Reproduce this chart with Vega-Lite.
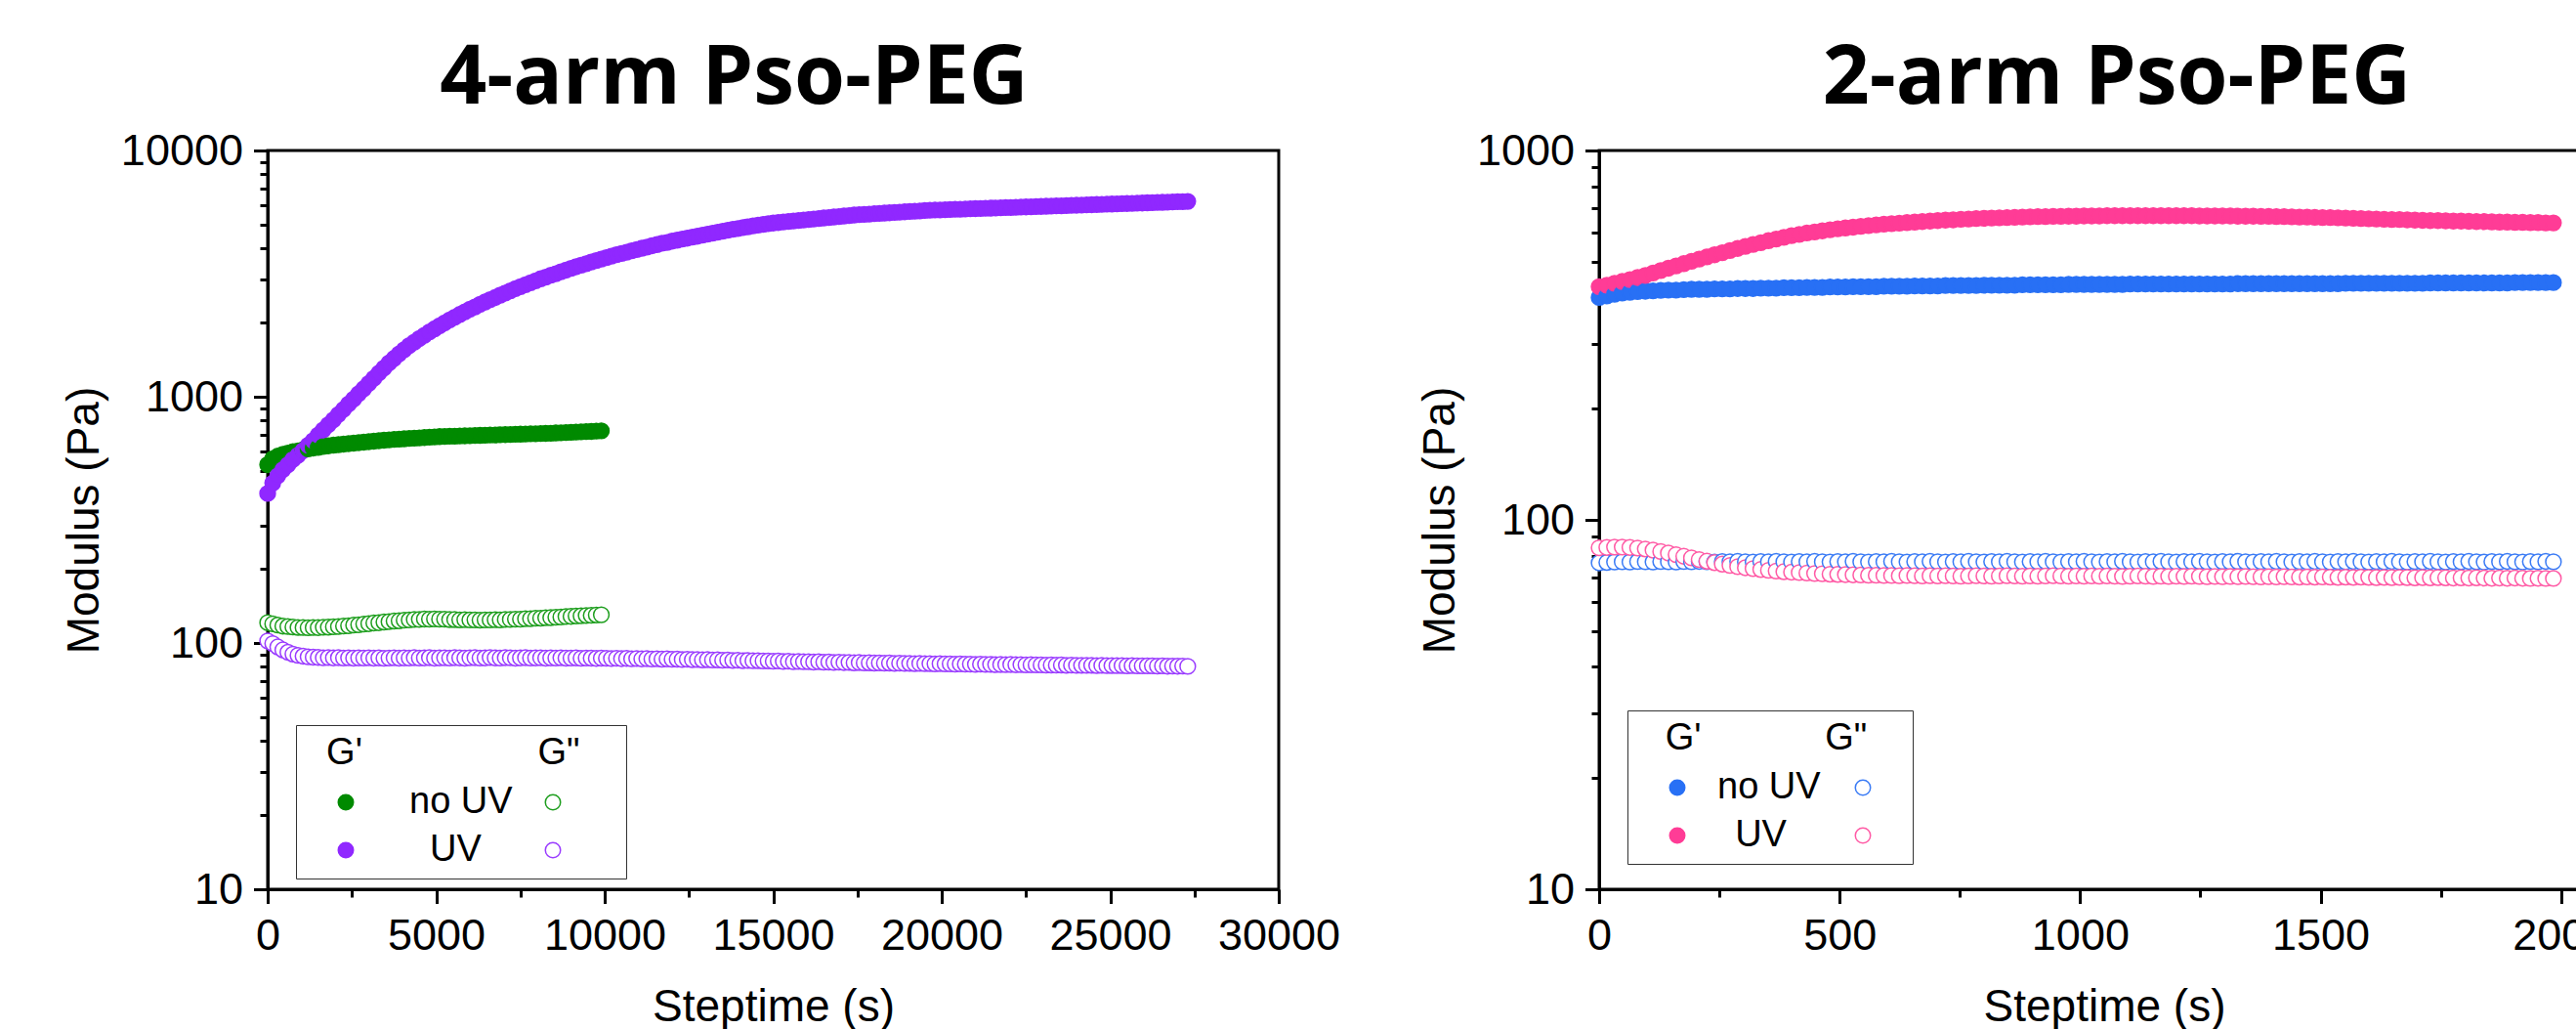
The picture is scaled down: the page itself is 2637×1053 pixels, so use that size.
{
"$schema": "https://vega.github.io/schema/vega-lite/v6.json",
"background": "white",
"padding": {"left": 61, "top": 37, "right": 0, "bottom": 0},
"spacing": 75,
"config": {
 "view": {"stroke": "black", "strokeWidth": 3},
 "font": "Liberation Sans",
 "axis": {"domainColor": "black", "domainWidth": 3, "tickColor": "black", "tickWidth": 3, "labelFont": "Liberation Sans", "labelFontSize": 45, "labelColor": "black", "labelPadding": 11, "titleFont": "Liberation Sans", "titleFontSize": 46, "titleFontWeight": "normal", "titleColor": "black", "grid": false, "zindex": 1, "labelFlush": false, "labelOverlap": false},
 "axisY": {"titlePadding": 13},
 "axisX": {"titlePadding": 28},
 "title": {"font": "Open Sans", "fontSize": 84, "fontWeight": "bold", "color": "black", "anchor": "middle", "frame": "group", "baseline": "alphabetic", "offset": 8},
 "legend": {"orient": "none", "columns": 2, "symbolType": "circle", "symbolSize": 240, "symbolStrokeWidth": 1.5, "labelFont": "Liberation Sans", "labelFontSize": 38, "labelColor": "black", "titleFont": "Liberation Sans", "titleFontSize": 38, "titleFontWeight": "normal", "titleColor": "black", "titleLimit": 600, "labelLimit": 300, "padding": 10, "titlePadding": 12, "rowPadding": 11, "strokeColor": "#333333", "symbolOffset": 22}
},
"resolve": {"scale": {"x": "independent", "y": "independent", "fill": "independent", "stroke": "independent"}, "legend": {"fill": "independent", "stroke": "independent"}},
"datasets": {
"L": [
{"t":0,"n1":530,"n2":121,"u1":405,"u2":102},
{"t":150,"n1":560,"n2":119.6,"u1":446,"u2":99.5},
{"t":300,"n1":574,"n2":118.2,"u1":478,"u2":96.4},
{"t":450,"n1":584,"n2":117.1,"u1":506,"u2":93.8},
{"t":600,"n1":591,"n2":116.6,"u1":529,"u2":91.7},
{"t":750,"n1":598,"n2":116.1,"u1":556,"u2":90.2},
{"t":900,"n1":603,"n2":115.7,"u1":579,"u2":89.1},
{"t":1050,"n1":609,"n2":115.6,"u1":604,"u2":88.4},
{"t":1200,"n1":614,"n2":115.4,"u1":635,"u2":87.9},
{"t":1350,"n1":619,"n2":115.6,"u1":664,"u2":87.6},
{"t":1500,"n1":623,"n2":115.5,"u1":699,"u2":87.4},
{"t":1650,"n1":628,"n2":115.9,"u1":733,"u2":87.1},
{"t":1800,"n1":632,"n2":116.0,"u1":770,"u2":87.3},
{"t":1950,"n1":636,"n2":116.4,"u1":806,"u2":87.0},
{"t":2100,"n1":639,"n2":116.6,"u1":848,"u2":87.2},
{"t":2250,"n1":642,"n2":117.2,"u1":888,"u2":86.9},
{"t":2400,"n1":645,"n2":117.5,"u1":934,"u2":87.1},
{"t":2550,"n1":648,"n2":118.2,"u1":978,"u2":86.8},
{"t":2700,"n1":651,"n2":118.6,"u1":1029,"u2":87.0},
{"t":2850,"n1":654,"n2":119.4,"u1":1078,"u2":86.9},
{"t":3000,"n1":657,"n2":119.8,"u1":1133,"u2":87.1},
{"t":3150,"n1":660,"n2":120.6,"u1":1188,"u2":86.8},
{"t":3300,"n1":663,"n2":120.9,"u1":1248,"u2":87.0},
{"t":3450,"n1":666,"n2":121.7,"u1":1308,"u2":86.7},
{"t":3600,"n1":668,"n2":122.1,"u1":1372,"u2":86.9},
{"t":3750,"n1":671,"n2":122.8,"u1":1431,"u2":87.1},
{"t":3900,"n1":673,"n2":123.1,"u1":1494,"u2":86.8},
{"t":4050,"n1":675,"n2":123.8,"u1":1551,"u2":87.0},
{"t":4200,"n1":677,"n2":124.0,"u1":1612,"u2":86.9},
{"t":4350,"n1":679,"n2":124.6,"u1":1666,"u2":87.2},
{"t":4500,"n1":681,"n2":124.7,"u1":1723,"u2":86.9},
{"t":4650,"n1":683,"n2":125.1,"u1":1777,"u2":87.0},
{"t":4800,"n1":685,"n2":125.0,"u1":1833,"u2":87.2},
{"t":4950,"n1":687,"n2":125.2,"u1":1887,"u2":86.8},
{"t":5100,"n1":689,"n2":124.9,"u1":1942,"u2":87.0},
{"t":5250,"n1":690,"n2":124.9,"u1":1994,"u2":87.1},
{"t":5400,"n1":691,"n2":124.5,"u1":2052,"u2":86.9},
{"t":5550,"n1":692,"n2":124.5,"u1":2103,"u2":87.2},
{"t":5700,"n1":693,"n2":124.2,"u1":2159,"u2":87.0},
{"t":5850,"n1":694,"n2":124.3,"u1":2212,"u2":86.8},
{"t":6000,"n1":695,"n2":124.0,"u1":2266,"u2":87.1},
{"t":6150,"n1":696,"n2":124.1,"u1":2316,"u2":87.2},
{"t":6300,"n1":697,"n2":123.9,"u1":2372,"u2":86.9},
{"t":6450,"n1":698,"n2":124.1,"u1":2426,"u2":87.0},
{"t":6600,"n1":699,"n2":124.0,"u1":2478,"u2":87.3},
{"t":6750,"n1":700,"n2":124.3,"u1":2528,"u2":87.0},
{"t":6900,"n1":701,"n2":124.2,"u1":2583,"u2":86.9},
{"t":7050,"n1":702,"n2":124.6,"u1":2635,"u2":87.2},
{"t":7200,"n1":703,"n2":124.6,"u1":2693,"u2":87.1},
{"t":7350,"n1":704,"n2":125.0,"u1":2747,"u2":86.8},
{"t":7500,"n1":705,"n2":125.0,"u1":2800,"u2":87.0},
{"t":7650,"n1":706,"n2":125.5,"u1":2850,"u2":87.2},
{"t":7800,"n1":707,"n2":125.6,"u1":2905,"u2":86.9},
{"t":7950,"n1":708,"n2":126.1,"u1":2957,"u2":87.0},
{"t":8100,"n1":709,"n2":126.2,"u1":3014,"u2":87.1},
{"t":8250,"n1":710,"n2":126.7,"u1":3061,"u2":86.8},
{"t":8400,"n1":711,"n2":126.8,"u1":3113,"u2":87.0},
{"t":8550,"n1":713,"n2":127.3,"u1":3161,"u2":86.9},
{"t":8700,"n1":714,"n2":127.5,"u1":3215,"u2":87.1},
{"t":8850,"n1":716,"n2":128.1,"u1":3265,"u2":86.8},
{"t":9000,"n1":717,"n2":128.3,"u1":3320,"u2":86.9},
{"t":9150,"n1":719,"n2":128.8,"u1":3372,"u2":87.0},
{"t":9300,"n1":720,"n2":128.9,"u1":3421,"u2":86.7},
{"t":9450,"n1":722,"n2":129.4,"u1":3466,"u2":86.9},
{"t":9600,"n1":723,"n2":129.5,"u1":3525,"u2":86.8},
{"t":9750,"n1":725,"n2":130.0,"u1":3572,"u2":86.6},
{"t":9900,"n1":727,"n2":130.2,"u1":3623,"u2":86.8},
{"t":10050,"u1":3672,"u2":86.7},
{"t":10200,"u1":3725,"u2":86.5},
{"t":10350,"u1":3775,"u2":86.7},
{"t":10500,"u1":3820,"u2":86.4},
{"t":10650,"u1":3863,"u2":86.6},
{"t":10800,"u1":3918,"u2":86.3},
{"t":10950,"u1":3962,"u2":86.5},
{"t":11100,"u1":4010,"u2":86.2},
{"t":11250,"u1":4054,"u2":86.4},
{"t":11400,"u1":4103,"u2":86.1},
{"t":11550,"u1":4149,"u2":86.3},
{"t":11700,"u1":4199,"u2":86.0},
{"t":11850,"u1":4235,"u2":86.2},
{"t":12000,"u1":4286,"u2":85.9},
{"t":12150,"u1":4324,"u2":86.0},
{"t":12300,"u1":4366,"u2":85.7},
{"t":12450,"u1":4405,"u2":85.9},
{"t":12600,"u1":4447,"u2":85.6},
{"t":12750,"u1":4486,"u2":85.7},
{"t":12900,"u1":4530,"u2":85.4},
{"t":13050,"u1":4570,"u2":85.6},
{"t":13200,"u1":4614,"u2":85.3},
{"t":13350,"u1":4655,"u2":85.4},
{"t":13500,"u1":4700,"u2":85.1},
{"t":13650,"u1":4741,"u2":85.3},
{"t":13800,"u1":4787,"u2":85.0},
{"t":13950,"u1":4818,"u2":85.1},
{"t":14100,"u1":4865,"u2":84.8},
{"t":14250,"u1":4897,"u2":85.0},
{"t":14400,"u1":4944,"u2":84.7},
{"t":14550,"u1":4976,"u2":84.8},
{"t":14700,"u1":5013,"u2":84.5},
{"t":14850,"u1":5046,"u2":84.6},
{"t":15000,"u1":5074,"u2":84.3},
{"t":15150,"u1":5098,"u2":84.5},
{"t":15300,"u1":5125,"u2":84.2},
{"t":15450,"u1":5148,"u2":84.3},
{"t":15600,"u1":5174,"u2":84.0},
{"t":15750,"u1":5197,"u2":84.2},
{"t":15900,"u1":5225,"u2":83.9},
{"t":16050,"u1":5247,"u2":84.0},
{"t":16200,"u1":5273,"u2":83.7},
{"t":16350,"u1":5296,"u2":83.9},
{"t":16500,"u1":5322,"u2":83.6},
{"t":16650,"u1":5345,"u2":83.7},
{"t":16800,"u1":5371,"u2":83.4},
{"t":16950,"u1":5394,"u2":83.6},
{"t":17100,"u1":5421,"u2":83.3},
{"t":17250,"u1":5444,"u2":83.4},
{"t":17400,"u1":5471,"u2":83.1},
{"t":17550,"u1":5486,"u2":83.3},
{"t":17700,"u1":5504,"u2":83.0},
{"t":17850,"u1":5519,"u2":83.1},
{"t":18000,"u1":5537,"u2":82.9},
{"t":18150,"u1":5552,"u2":83.0},
{"t":18300,"u1":5571,"u2":82.8},
{"t":18450,"u1":5585,"u2":82.9},
{"t":18600,"u1":5604,"u2":82.7},
{"t":18750,"u1":5619,"u2":82.8},
{"t":18900,"u1":5637,"u2":82.6},
{"t":19050,"u1":5652,"u2":82.7},
{"t":19200,"u1":5671,"u2":82.5},
{"t":19350,"u1":5686,"u2":82.6},
{"t":19500,"u1":5705,"u2":82.4},
{"t":19650,"u1":5720,"u2":82.5},
{"t":19800,"u1":5731,"u2":82.3},
{"t":19950,"u1":5738,"u2":82.4},
{"t":20100,"u1":5750,"u2":82.2},
{"t":20250,"u1":5757,"u2":82.3},
{"t":20400,"u1":5769,"u2":82.1},
{"t":20550,"u1":5776,"u2":82.2},
{"t":20700,"u1":5787,"u2":82.0},
{"t":20850,"u1":5795,"u2":82.1},
{"t":21000,"u1":5806,"u2":81.9},
{"t":21150,"u1":5814,"u2":82.0},
{"t":21300,"u1":5825,"u2":81.9},
{"t":21450,"u1":5832,"u2":81.9},
{"t":21600,"u1":5844,"u2":81.7},
{"t":21750,"u1":5851,"u2":81.8},
{"t":21900,"u1":5862,"u2":81.7},
{"t":22050,"u1":5870,"u2":81.8},
{"t":22200,"u1":5881,"u2":81.6},
{"t":22350,"u1":5889,"u2":81.7},
{"t":22500,"u1":5901,"u2":81.5},
{"t":22650,"u1":5908,"u2":81.6},
{"t":22800,"u1":5920,"u2":81.5},
{"t":22950,"u1":5927,"u2":81.5},
{"t":23100,"u1":5939,"u2":81.3},
{"t":23250,"u1":5946,"u2":81.4},
{"t":23400,"u1":5958,"u2":81.3},
{"t":23550,"u1":5965,"u2":81.4},
{"t":23700,"u1":5977,"u2":81.2},
{"t":23850,"u1":5985,"u2":81.3},
{"t":24000,"u1":5996,"u2":81.1},
{"t":24150,"u1":6004,"u2":81.2},
{"t":24300,"u1":6015,"u2":81.1},
{"t":24450,"u1":6023,"u2":81.2},
{"t":24600,"u1":6035,"u2":81.0},
{"t":24750,"u1":6042,"u2":81.1},
{"t":24900,"u1":6054,"u2":80.9},
{"t":25050,"u1":6062,"u2":81.0},
{"t":25200,"u1":6073,"u2":80.9},
{"t":25350,"u1":6081,"u2":81.0},
{"t":25500,"u1":6093,"u2":80.8},
{"t":25650,"u1":6101,"u2":80.9},
{"t":25800,"u1":6113,"u2":80.7},
{"t":25950,"u1":6120,"u2":80.8},
{"t":26100,"u1":6132,"u2":80.7},
{"t":26250,"u1":6140,"u2":80.8},
{"t":26400,"u1":6152,"u2":80.6},
{"t":26550,"u1":6160,"u2":80.7},
{"t":26700,"u1":6172,"u2":80.5},
{"t":26850,"u1":6180,"u2":80.6},
{"t":27000,"u1":6192,"u2":80.5},
{"t":27150,"u1":6200,"u2":80.6},
{"t":27300,"u1":6212,"u2":80.4}
],
"R": [
{"t":0,"n1":400,"n2":76.5,"u1":428,"u2":84.0},
{"t":16,"n1":404,"n2":76.7,"u1":432,"u2":84.2},
{"t":32,"n1":408,"n2":76.9,"u1":437,"u2":84.4},
{"t":48,"n1":411,"n2":77.0,"u1":442,"u2":84.4},
{"t":64,"n1":413,"n2":76.9,"u1":447,"u2":84.2},
{"t":80,"n1":415,"n2":77.1,"u1":453,"u2":83.9},
{"t":96,"n1":416,"n2":77.0,"u1":459,"u2":83.4},
{"t":112,"n1":417,"n2":76.9,"u1":466,"u2":82.8},
{"t":128,"n1":418,"n2":77.1,"u1":473,"u2":82.1},
{"t":144,"n1":419,"n2":77.0,"u1":480,"u2":81.3},
{"t":160,"n1":419,"n2":76.9,"u1":487,"u2":80.5},
{"t":176,"n1":420,"n2":77.1,"u1":494,"u2":79.7},
{"t":192,"n1":421,"n2":77.0,"u1":501,"u2":78.9},
{"t":208,"n1":421,"n2":77.2,"u1":508,"u2":78.1},
{"t":224,"n1":421,"n2":77.0,"u1":515,"u2":77.3},
{"t":240,"n1":422,"n2":76.9,"u1":522,"u2":76.6},
{"t":256,"n1":422,"n2":77.1,"u1":529,"u2":75.9},
{"t":272,"n1":422,"n2":77.0,"u1":536,"u2":75.3},
{"t":288,"n1":423,"n2":77.2,"u1":543,"u2":74.7},
{"t":304,"n1":423,"n2":77.0,"u1":550,"u2":74.2},
{"t":320,"n1":423,"n2":76.9,"u1":557,"u2":73.8},
{"t":336,"n1":424,"n2":77.1,"u1":563,"u2":73.4},
{"t":352,"n1":424,"n2":77.0,"u1":570,"u2":73.0},
{"t":368,"n1":424,"n2":77.2,"u1":576,"u2":72.7},
{"t":384,"n1":425,"n2":77.0,"u1":582,"u2":72.4},
{"t":400,"n1":425,"n2":76.9,"u1":588,"u2":72.2},
{"t":416,"n1":425,"n2":77.1,"u1":593,"u2":72.0},
{"t":432,"n1":426,"n2":77.0,"u1":598,"u2":71.8},
{"t":448,"n1":426,"n2":77.2,"u1":602,"u2":71.6},
{"t":464,"n1":426,"n2":77.0,"u1":606,"u2":71.5},
{"t":480,"n1":427,"n2":76.9,"u1":610,"u2":71.3},
{"t":496,"n1":427,"n2":77.1,"u1":614,"u2":71.2},
{"t":512,"n1":427,"n2":77.0,"u1":617,"u2":71.1},
{"t":528,"n1":428,"n2":77.2,"u1":620,"u2":71.0},
{"t":544,"n1":428,"n2":77.0,"u1":623,"u2":70.9},
{"t":560,"n1":428,"n2":76.9,"u1":626,"u2":70.8},
{"t":576,"n1":428,"n2":77.1,"u1":629,"u2":70.8},
{"t":592,"n1":429,"n2":77.0,"u1":632,"u2":70.7},
{"t":608,"n1":429,"n2":77.2,"u1":634,"u2":70.7},
{"t":624,"n1":429,"n2":77.0,"u1":636,"u2":70.6},
{"t":640,"n1":429,"n2":76.9,"u1":638,"u2":70.7},
{"t":656,"n1":430,"n2":77.1,"u1":640,"u2":70.6},
{"t":672,"n1":430,"n2":77.0,"u1":642,"u2":70.5},
{"t":688,"n1":430,"n2":77.2,"u1":644,"u2":70.6},
{"t":704,"n1":430,"n2":77.0,"u1":646,"u2":70.5},
{"t":720,"n1":431,"n2":76.9,"u1":648,"u2":70.6},
{"t":736,"n1":431,"n2":77.1,"u1":649,"u2":70.5},
{"t":752,"n1":431,"n2":77.0,"u1":651,"u2":70.4},
{"t":768,"n1":431,"n2":77.2,"u1":652,"u2":70.5},
{"t":784,"n1":431,"n2":77.0,"u1":654,"u2":70.6},
{"t":800,"n1":432,"n2":76.9,"u1":655,"u2":70.5},
{"t":816,"n1":432,"n2":77.1,"u1":656,"u2":70.4},
{"t":832,"n1":432,"n2":77.0,"u1":657,"u2":70.5},
{"t":848,"n1":432,"n2":77.2,"u1":658,"u2":70.6},
{"t":864,"n1":432,"n2":77.0,"u1":659,"u2":70.5},
{"t":880,"n1":433,"n2":76.9,"u1":660,"u2":70.4},
{"t":896,"n1":433,"n2":77.1,"u1":661,"u2":70.5},
{"t":912,"n1":433,"n2":77.0,"u1":662,"u2":70.4},
{"t":928,"n1":433,"n2":77.2,"u1":662,"u2":70.5},
{"t":944,"n1":433,"n2":77.0,"u1":663,"u2":70.6},
{"t":960,"n1":433,"n2":76.9,"u1":663,"u2":70.5},
{"t":976,"n1":434,"n2":77.1,"u1":664,"u2":70.4},
{"t":992,"n1":434,"n2":77.0,"u1":664,"u2":70.5},
{"t":1008,"n1":434,"n2":77.2,"u1":665,"u2":70.4},
{"t":1024,"n1":434,"n2":77.0,"u1":665,"u2":70.5},
{"t":1040,"n1":434,"n2":76.9,"u1":665,"u2":70.4},
{"t":1056,"n1":434,"n2":77.1,"u1":666,"u2":70.5},
{"t":1072,"n1":434,"n2":77.0,"u1":666,"u2":70.4},
{"t":1088,"n1":434,"n2":77.2,"u1":666,"u2":70.3},
{"t":1104,"n1":435,"n2":77.0,"u1":666,"u2":70.4},
{"t":1120,"n1":435,"n2":76.9,"u1":666,"u2":70.5},
{"t":1136,"n1":435,"n2":77.1,"u1":666,"u2":70.4},
{"t":1152,"n1":435,"n2":77.0,"u1":666,"u2":70.3},
{"t":1168,"n1":435,"n2":77.2,"u1":666,"u2":70.4},
{"t":1184,"n1":435,"n2":77.0,"u1":666,"u2":70.3},
{"t":1200,"n1":435,"n2":76.9,"u1":666,"u2":70.4},
{"t":1216,"n1":435,"n2":77.1,"u1":666,"u2":70.3},
{"t":1232,"n1":435,"n2":77.0,"u1":666,"u2":70.4},
{"t":1248,"n1":435,"n2":77.2,"u1":665,"u2":70.3},
{"t":1264,"n1":435,"n2":77.0,"u1":665,"u2":70.2},
{"t":1280,"n1":435,"n2":76.9,"u1":665,"u2":70.3},
{"t":1296,"n1":435,"n2":77.1,"u1":665,"u2":70.2},
{"t":1312,"n1":435,"n2":77.0,"u1":665,"u2":70.3},
{"t":1328,"n1":436,"n2":77.2,"u1":664,"u2":70.2},
{"t":1344,"n1":436,"n2":77.0,"u1":664,"u2":70.3},
{"t":1360,"n1":436,"n2":76.9,"u1":664,"u2":70.2},
{"t":1376,"n1":436,"n2":77.1,"u1":663,"u2":70.1},
{"t":1392,"n1":436,"n2":77.0,"u1":663,"u2":70.2},
{"t":1408,"n1":436,"n2":77.2,"u1":662,"u2":70.1},
{"t":1424,"n1":436,"n2":77.0,"u1":662,"u2":70.2},
{"t":1440,"n1":436,"n2":76.9,"u1":661,"u2":70.1},
{"t":1456,"n1":436,"n2":77.1,"u1":660,"u2":70.0},
{"t":1472,"n1":436,"n2":77.0,"u1":660,"u2":70.1},
{"t":1488,"n1":436,"n2":77.2,"u1":659,"u2":70.0},
{"t":1504,"n1":436,"n2":77.0,"u1":658,"u2":70.1},
{"t":1520,"n1":436,"n2":76.9,"u1":658,"u2":70.0},
{"t":1536,"n1":436,"n2":77.1,"u1":657,"u2":69.9},
{"t":1552,"n1":437,"n2":77.0,"u1":656,"u2":70.0},
{"t":1568,"n1":437,"n2":77.2,"u1":655,"u2":69.9},
{"t":1584,"n1":437,"n2":77.0,"u1":654,"u2":70.0},
{"t":1600,"n1":437,"n2":76.9,"u1":653,"u2":69.9},
{"t":1616,"n1":437,"n2":77.1,"u1":652,"u2":69.8},
{"t":1632,"n1":437,"n2":77.0,"u1":651,"u2":69.9},
{"t":1648,"n1":437,"n2":77.2,"u1":650,"u2":69.8},
{"t":1664,"n1":437,"n2":77.0,"u1":650,"u2":69.9},
{"t":1680,"n1":437,"n2":76.9,"u1":649,"u2":69.8},
{"t":1696,"n1":437,"n2":77.1,"u1":648,"u2":69.7},
{"t":1712,"n1":437,"n2":77.0,"u1":647,"u2":69.8},
{"t":1728,"n1":438,"n2":77.2,"u1":646,"u2":69.7},
{"t":1744,"n1":438,"n2":77.0,"u1":646,"u2":69.8},
{"t":1760,"n1":438,"n2":76.9,"u1":645,"u2":69.7},
{"t":1776,"n1":438,"n2":77.1,"u1":644,"u2":69.6},
{"t":1792,"n1":438,"n2":77.0,"u1":644,"u2":69.7},
{"t":1808,"n1":438,"n2":77.2,"u1":643,"u2":69.6},
{"t":1824,"n1":438,"n2":77.0,"u1":642,"u2":69.7},
{"t":1840,"n1":438,"n2":76.9,"u1":642,"u2":69.6},
{"t":1856,"n1":438,"n2":77.1,"u1":641,"u2":69.5},
{"t":1872,"n1":438,"n2":77.0,"u1":640,"u2":69.6},
{"t":1888,"n1":438,"n2":77.2,"u1":640,"u2":69.5},
{"t":1904,"n1":439,"n2":77.0,"u1":639,"u2":69.6},
{"t":1920,"n1":439,"n2":76.9,"u1":639,"u2":69.5},
{"t":1936,"n1":439,"n2":77.1,"u1":638,"u2":69.4},
{"t":1952,"n1":439,"n2":77.0,"u1":638,"u2":69.5},
{"t":1968,"n1":439,"n2":77.2,"u1":637,"u2":69.4},
{"t":1984,"n1":439,"n2":77.0,"u1":637,"u2":69.4}
]
},
"hconcat": [
{
 "title": {"text": "4-arm Pso-PEG", "dx": -40},
 "width": 1035,
 "height": 756,
 "data": {"name": "L"},
 "transform": [{"fold": ["n1", "n2", "u1", "u2"], "as": ["s", "v"]}, {"filter": "isValid(datum.v)"}],
 "mark": {"type": "point", "shape": "circle", "size": 250, "strokeWidth": 1.5, "opacity": 1, "filled": true},
 "encoding": {
  "x": {"field": "t", "type": "quantitative", "scale": {"domain": [0, 30000], "nice": false},
   "axis": {"title": "Steptime (s)", "values": [0,2500,5000,7500,10000,12500,15000,17500,20000,22500,25000,27500,30000], "format": "d",
    "labelExpr": "datum.value % 5000 == 0 ? datum.label : ''",
    "tickSize": {"condition": {"test": "datum.value % 5000 == 0", "value": 14.5}, "value": 8}}},
  "y": {"field": "v", "type": "quantitative", "scale": {"type": "log", "domain": [10, 10000], "nice": false},
   "axis": {"title": "Modulus (Pa)", "values": [10,20,30,40,50,60,70,80,90,100,200,300,400,500,600,700,800,900,1000,2000,3000,4000,5000,6000,7000,8000,9000,10000], "format": "d",
    "labelExpr": "indexof([10,100,1000,10000], datum.value) >= 0 ? datum.label : ''",
    "tickSize": {"condition": {"test": "indexof([10,100,1000,10000], datum.value) >= 0", "value": 14.5}, "value": 8}}},
  "fill": {"field": "s", "type": "nominal", "scale": {"domain": ["n1", "u1", "n2", "u2"], "range": ["#008A00", "#9028FF", "#ffffff", "#ffffff"]},
   "legend": {"title": "\u200b\u00a0\u00a0G'\u00a0\u00a0\u00a0\u00a0\u00a0\u00a0\u00a0\u00a0\u00a0\u00a0\u00a0\u00a0\u00a0\u00a0\u00a0\u00a0\u00a0G\"", "legendX": 29, "legendY": 588, "labelOffset": 46, "columnPadding": 0,
    "labelExpr": "datum.value == 'n1' ? 'no UV' : datum.value == 'u1' ? '\u200b\u00a0\u00a0UV' : ''",
    "encode": {"legend": {"update": {"strokeWidth": {"value": 1.5}}}}}},
  "stroke": {"field": "s", "type": "nominal", "scale": {"domain": ["n1", "u1", "n2", "u2"], "range": ["#008A00", "#9028FF", "#1E9E1E", "#9A3CFF"]},
   "legend": {"title": "\u200b\u00a0\u00a0G'\u00a0\u00a0\u00a0\u00a0\u00a0\u00a0\u00a0\u00a0\u00a0\u00a0\u00a0\u00a0\u00a0\u00a0\u00a0\u00a0\u00a0G\"", "legendX": 29, "legendY": 588, "labelOffset": 46, "columnPadding": 0,
    "labelExpr": "datum.value == 'n1' ? 'no UV' : datum.value == 'u1' ? '\u200b\u00a0\u00a0UV' : ''",
    "encode": {"legend": {"update": {"strokeWidth": {"value": 1.5}}}}}},
  "order": [{"field": "s", "type": "ordinal", "sort": "descending"}, {"field": "t", "type": "quantitative"}]
 }
},
{
 "title": {"text": "2-arm Pso-PEG", "dx": 13},
 "width": 1034,
 "height": 756,
 "data": {"name": "R"},
 "transform": [{"fold": ["n1", "n2", "u1", "u2"], "as": ["s", "v"]}, {"filter": "isValid(datum.v)"}],
 "mark": {"type": "point", "shape": "circle", "size": 250, "strokeWidth": 1.5, "opacity": 1, "filled": true},
 "encoding": {
  "x": {"field": "t", "type": "quantitative", "scale": {"domain": [0, 2100], "nice": false},
   "axis": {"title": "Steptime (s)", "values": [0,250,500,750,1000,1250,1500,1750,2000], "format": "d",
    "labelExpr": "datum.value % 500 == 0 ? datum.label : ''",
    "tickSize": {"condition": {"test": "datum.value % 500 == 0", "value": 14.5}, "value": 8}}},
  "y": {"field": "v", "type": "quantitative", "scale": {"type": "log", "domain": [10, 1000], "nice": false},
   "axis": {"title": "Modulus (Pa)", "values": [10,20,30,40,50,60,70,80,90,100,200,300,400,500,600,700,800,900,1000], "format": "d",
    "labelExpr": "indexof([10,100,1000], datum.value) >= 0 ? datum.label : ''",
    "tickSize": {"condition": {"test": "indexof([10,100,1000], datum.value) >= 0", "value": 14.5}, "value": 8}}},
  "fill": {"field": "s", "type": "nominal", "scale": {"domain": ["n1", "u1", "n2", "u2"], "range": ["#2870F5", "#FF3C96", "#ffffff", "#ffffff"]},
   "legend": {"title": "\u200b\u00a0\u00a0\u2009G'\u00a0\u00a0\u00a0\u00a0\u00a0\u00a0\u00a0\u00a0\u00a0\u00a0\u00a0\u00a0G\"", "legendX": 29, "legendY": 573, "labelOffset": 22, "columnPadding": 2,
    "labelExpr": "datum.value == 'n1' ? 'no UV' : datum.value == 'u1' ? '\u200b\u00a0\u2009UV' : ''",
    "encode": {"legend": {"update": {"strokeWidth": {"value": 1.5}}}}}},
  "stroke": {"field": "s", "type": "nominal", "scale": {"domain": ["n1", "u1", "n2", "u2"], "range": ["#2870F5", "#FF3C96", "#3A7BF5", "#FF5AA5"]},
   "legend": {"title": "\u200b\u00a0\u00a0\u2009G'\u00a0\u00a0\u00a0\u00a0\u00a0\u00a0\u00a0\u00a0\u00a0\u00a0\u00a0\u00a0G\"", "legendX": 29, "legendY": 573, "labelOffset": 22, "columnPadding": 2,
    "labelExpr": "datum.value == 'n1' ? 'no UV' : datum.value == 'u1' ? '\u200b\u00a0\u2009UV' : ''",
    "encode": {"legend": {"update": {"strokeWidth": {"value": 1.5}}}}}},
  "order": [{"field": "s", "type": "ordinal", "sort": "ascending"}, {"field": "t", "type": "quantitative"}]
 }
}
]
}
